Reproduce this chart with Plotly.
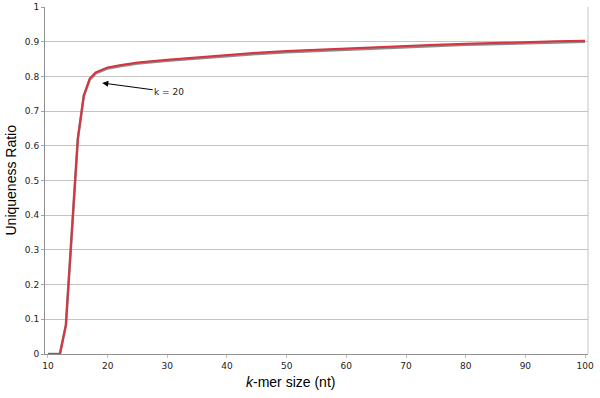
import plotly.graph_objects as go

k_values = [10, 11, 12, 13, 14, 15, 16, 17, 18, 19, 20, 22, 25, 30, 35, 40, 45, 50,
            55, 60, 65, 70, 75, 80, 85, 90, 95, 100]
red_ratio = [0.0, 0.0, 0.0, 0.083, 0.34, 0.62, 0.745, 0.794, 0.812, 0.820, 0.826,
             0.832, 0.840, 0.848, 0.855, 0.862, 0.868, 0.873, 0.877, 0.881, 0.885,
             0.888, 0.891, 0.894, 0.897, 0.899, 0.901, 0.903]
gray_ratio = [0.0, 0.0, 0.0, 0.083, 0.34, 0.62, 0.743, 0.791, 0.809, 0.817, 0.823,
              0.829, 0.837, 0.845, 0.852, 0.859, 0.865, 0.870, 0.874, 0.878, 0.882,
              0.885, 0.888, 0.891, 0.894, 0.896, 0.898, 0.900]
y_ticks = [0, 0.1, 0.2, 0.3, 0.4, 0.5, 0.6, 0.7, 0.8, 0.9, 1]
y_tick_labels = ["0", "0.1", "0.2", "0.3", "0.4", "0.5", "0.6", "0.7", "0.8", "0.9", "1"]
x_ticks = [10, 20, 30, 40, 50, 60, 70, 80, 90, 100]

W, H = 600, 398
ML, MR, MT, MB = 45, 12, 7, 44
PW, PH = W - ML - MR, H - MT - MB

fig = go.Figure()
fig.add_trace(go.Scatter(x=k_values, y=gray_ratio, mode="lines",
                         line=dict(color="#8a8a8a", width=2.6), showlegend=False,
                         hoverinfo="skip"))
fig.add_trace(go.Scatter(x=k_values, y=red_ratio, mode="lines",
                         line=dict(color="#d8333f", width=2), showlegend=False))

fig.add_annotation(x=19.1, y=0.781, xref="x", yref="y", text="k = 20",
                   showarrow=True, arrowhead=2, arrowsize=1.2, arrowwidth=1,
                   arrowcolor="black", ax=67, ay=9, standoff=0,
                   font=dict(family="DejaVu Sans", size=9, color="#222"))

fig.add_annotation(xref="paper", yref="paper",
                   x=(290 - ML) / PW, y=-(382 - (H - MB)) / PH,
                   xanchor="center", yanchor="middle", showarrow=False,
                   text="<i>k</i>-mer size (nt)",
                   font=dict(family="Liberation Sans", size=14, color="black"))
fig.add_annotation(xref="paper", yref="paper",
                   x=-(ML - 10) / PW, y=0.5, textangle=-90,
                   xanchor="center", yanchor="middle", showarrow=False,
                   text="Uniqueness Ratio",
                   font=dict(family="Liberation Sans", size=14, color="black"))

fig.update_layout(
    width=W, height=H,
    margin=dict(l=ML, r=MR, t=MT, b=MB, autoexpand=False),
    paper_bgcolor="white", plot_bgcolor="white",
    xaxis=dict(range=[9.5, 100.5], tickvals=x_ticks, showgrid=False, automargin=False,
               showline=True, linecolor="#909090", linewidth=1,
               ticks="outside", ticklen=3, tickcolor="#c0c0c0",
               tickfont=dict(family="DejaVu Sans", size=9, color="#222"),
               zeroline=False),
    yaxis=dict(range=[0, 1], tickvals=y_ticks, ticktext=y_tick_labels, automargin=False,
               showgrid=True, gridcolor="#c4c4c4", gridwidth=1,
               showline=True, linecolor="#909090", linewidth=1,
               ticks="outside", ticklen=3, tickcolor="#a0a0a0",
               tickfont=dict(family="DejaVu Sans", size=9, color="#222"),
               zeroline=False),
)
fig.add_shape(type="line", xref="paper", yref="paper", x0=1, x1=1, y0=0, y1=1,
              line=dict(color="#c4c4c4", width=1))
fig.write_html("out.html", config={"displayModeBar": False},
               post_script="document.body.style.margin='0';document.body.style.overflow='hidden';")
